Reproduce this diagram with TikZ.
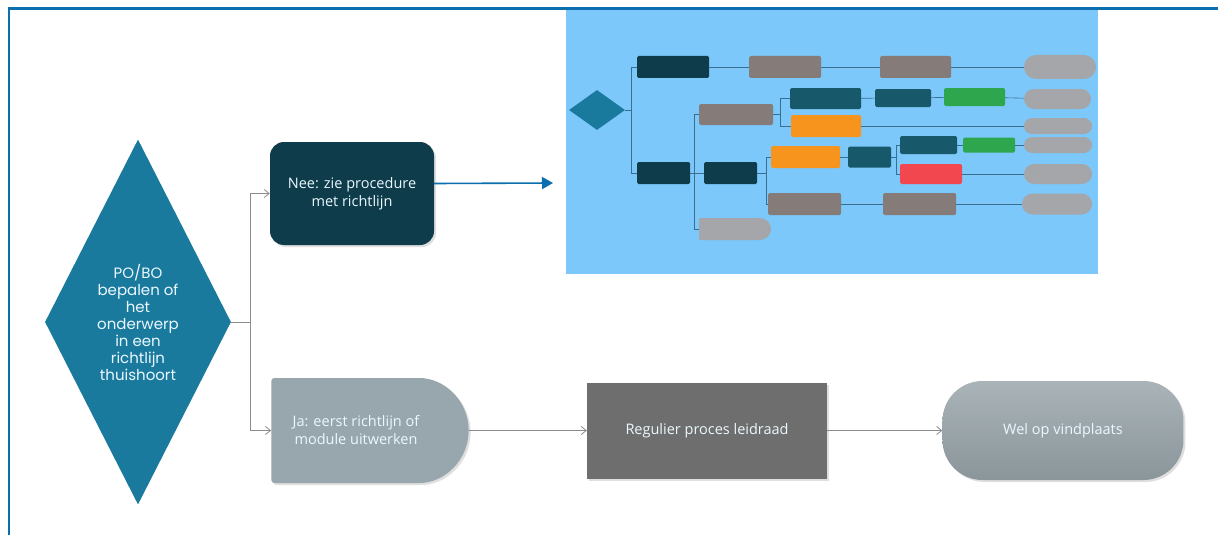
\documentclass[tikz,border=0pt]{standalone}
\usepackage{fontspec}
\setmainfont{Open Sans}
\newfontfamily\decisionfont{Poppins}
\usetikzlibrary{shapes.geometric,shapes.misc,arrows.meta,positioning,shadows}

\definecolor{framebl}{HTML}{0A6EAF}
\definecolor{decteal}{HTML}{1A7A9E}
\definecolor{navy}{HTML}{0E3C4B}
\definecolor{slategr}{HTML}{98A6AD}
\definecolor{procgr}{HTML}{6E6E6E}
\definecolor{endgr}{HTML}{9AA6AC}
\definecolor{connGr}{HTML}{8C8C8C}
\definecolor{screenbl}{HTML}{7CC8FA}
\definecolor{minilink}{HTML}{3B6F8F}
\definecolor{minitl}{HTML}{17586A}
\definecolor{minibr}{HTML}{857C79}
\definecolor{miniend}{HTML}{A4A6A9}
\definecolor{minior}{HTML}{F7941E}
\definecolor{minigr}{HTML}{2DA64D}
\definecolor{minird}{HTML}{F2474F}

\tikzset{
  boxtext/.style={text=white!92!cyan, align=center, font=\fontsize{14.5}{18}\selectfont},
  shade/.style={drop shadow={opacity=0.25, shadow xshift=2pt, shadow yshift=-2pt}},
  conn/.style={draw=connGr, line width=0.8pt, -{Straight Barb[length=5pt,width=8pt]}},
  minibox/.style 2 args={rectangle, rounded corners=1.5pt, inner sep=0pt,
    minimum width=#1pt, minimum height=#2pt},
  minipill/.style 2 args={rounded rectangle, inner sep=0pt, fill=miniend,
    minimum width=#1pt, minimum height=#2pt},
  mline/.style={draw=minilink, line width=0.6pt},
}

\begin{document}
\begin{tikzpicture}[x=1pt,y=-1pt,node distance=118pt]
\useasboundingbox (0,0) rectangle (1218,535);
\fill[white] (0,0) rectangle (1218,535);

% frame
\draw[framebl, line width=2.2pt] (9,535) -- (9,8.5) -- (1218,8.5);

% main flow
\node[diamond, aspect=0.5, fill=decteal, inner sep=0pt, minimum width=186pt, minimum height=365pt,
  text=white!92!cyan, align=center, font=\decisionfont\fontsize{15}{17}\selectfont]
  (decide) at (138,322) {PO/BO\\bepalen of\\het\\onderwerp\\in een\\richtlijn\\thuishoort};

\node[boxtext, shade, rectangle, rounded corners=14pt, fill=navy,
  minimum width=164pt, minimum height=103pt] (nee) at (352,193.5)
  {Nee: zie procedure\\met richtlijn};

\node[shade, rounded rectangle, rounded rectangle left arc=none,
  rounded corners=3pt, fill=slategr, minimum width=204pt, minimum height=105pt]
  (ja) at (370,430.5) {};
\node[boxtext] (jatext) at ([xshift=-14pt]ja.center) {Ja: eerst richtlijn of\\module uitwerken};
\node[boxtext, shade, rectangle, fill=procgr, minimum width=240pt, minimum height=96pt,
  right=of ja] (regulier) {Regulier proces leidraad};
\node[boxtext, shade, rectangle, rounded corners=40pt, top color=endgr!85!white,
  bottom color=endgr!90!black, minimum width=241pt, minimum height=99pt,
  right=115pt of regulier] (wel) {Wel op vindplaats};

\draw[conn, -] (decide.east) -- ++(19,0) coordinate (split);
\draw[conn] (split) |- (nee.west);
\draw[conn] (split) |- (ja.west);
\draw[conn] (ja) -- (regulier);
\draw[conn] (regulier) -- (wel);

% procedure overview
\node[rectangle, fill=screenbl, inner sep=0pt, minimum width=532pt, minimum height=264pt]
  (screen) at (832,142) {};
\coordinate (target) at (553,183);
\draw[framebl, line width=1.6pt, -{Triangle[length=11pt,width=12pt]}]
  ([yshift=10pt]nee.east) -- (target);

\node[diamond, fill=decteal, inner sep=0pt, minimum width=56pt, minimum height=40pt]
  (mdec) at (597,110) {};
\node[minibox={72}{22}, fill=navy] (a1) at (673,67) {};
\node[minibox={72}{22}, fill=minibr] (a2) at (785,67) {};
\node[minibox={71}{22}, fill=minibr] (a3) at (915.5,67) {};
\node[minipill={72}{24}] (a4) at (1060,67) {};

\node[minibox={53}{22}, fill=navy] (b1) at (663.5,173) {};
\node[minibox={74}{21}, fill=minibr] (c1) at (736,114.5) {};
\node[minibox={71}{21}, fill=minitl] (c2) at (825.5,98.5) {};
\node[minibox={56}{18}, fill=minitl] (c2b) at (903,98) {};
\node[minibox={61}{18}, fill=minigr] (c2c) at (974.5,97) {};
\node[minipill={67}{20}] (c2d) at (1057.5,99) {};
\node[minibox={70}{22}, fill=minior] (c3) at (826,126) {};
\node[minipill={68}{16}] (c3e) at (1058,126) {};

\node[minibox={53}{22}, fill=navy] (b2) at (730.5,173) {};
\node[minibox={69}{22}, fill=minior] (d1) at (805.5,157) {};
\node[minibox={43}{21}, fill=minitl] (d2) at (869.5,157) {};
\node[minibox={57}{18}, fill=minitl] (d3) at (928.5,145) {};
\node[minibox={52}{15}, fill=minigr] (d4) at (989,145) {};
\node[minipill={68}{16}] (d4e) at (1058,145) {};
\node[minibox={62}{20}, fill=minird] (d5) at (931,174) {};
\node[minipill={68}{20}] (d5e) at (1058,174) {};

\node[minibox={73}{22}, fill=minibr] (e1) at (804.5,204) {};
\node[minibox={73}{22}, fill=minibr] (e2) at (919.5,204) {};
\node[minipill={70}{21}] (e3) at (1057,204) {};
\node[rounded rectangle, rounded rectangle left arc=none, inner sep=0pt, fill=miniend,
  minimum width=72pt, minimum height=22pt] (f1) at (735,229) {};

\draw[mline] (mdec.east) -- ++(6,0) coordinate (m0);
\draw[mline] (a1.west) -| (m0) |- (b1.west);
\draw[mline] (a1) -- (a2) -- (a3) -- (a4);
\draw[mline] (b1.east) -- ++(4,0) coordinate (m1);
\draw[mline] (c1.west) -| (m1) |- (f1.west);
\draw[mline] (m1) -- (b2.west);
\draw[mline] (c1.east) -- ++(7,0) coordinate (m2);
\draw[mline] (c2.west) -| (m2) |- (c3.west);
\draw[mline] (c2) -- (c2b) -- (c2c) -- (c2d);
\draw[mline] (c3) -- (c3e);
\draw[mline] (b2.east) -- ++(9,0) coordinate (m3);
\draw[mline] (d1.west) -| (m3) |- (e1.west);
\draw[mline] (d1) -- (d2);
\draw[mline] (d2.east) -- ++(5,0) coordinate (m4);
\draw[mline] (d3.west) -| (m4) |- (d5.west);
\draw[mline] (d3) -- (d4) -- (d4e);
\draw[mline] (d5) -- (d5e);
\draw[mline] (e1) -- (e2) -- (e3);
\end{tikzpicture}
\end{document}
